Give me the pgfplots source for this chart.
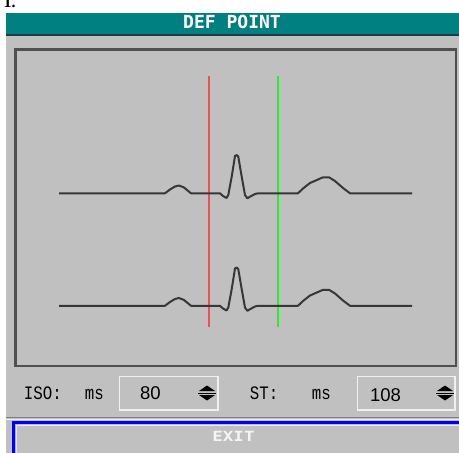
\documentclass[border=0pt]{standalone}
\usepackage{fontspec}
\usepackage{pgfplots}
\pgfplotsset{compat=1.18}
\setmainfont{Liberation Serif}
\newfontfamily\uimono{Liberation Mono}
\newfontfamily\uisans{Liberation Sans}
\newfontfamily\uititle{DejaVu Sans Mono}

\definecolor{dlgteal}{RGB}{0,128,128}
\definecolor{panelgray}{RGB}{192,192,192}
\definecolor{framegray}{RGB}{80,80,80}
\definecolor{tracegray}{RGB}{55,55,55}
\definecolor{isored}{RGB}{240,80,80}
\definecolor{stgreen}{RGB}{40,240,40}
\definecolor{boxedge}{RGB}{240,240,240}
\definecolor{darkteal}{RGB}{30,60,60}

\begin{document}
\begin{tikzpicture}
\clip (0,0) rectangle (459pt,453pt);
\begin{axis}[
    scale only axis,
    width=459pt, height=453pt,
    xmin=0, xmax=459, ymin=0, ymax=453,
    y dir=reverse,
    hide axis,
    clip=false,
]
% window
\fill[white] (0,0) rectangle (459,453);
\node[anchor=base west, font=\bfseries\fontsize{16}{16}\selectfont] at (0,7) {1.};
\fill[panelgray] (6,36) rectangle (459,453);
\fill[dlgteal] (6,13) rectangle (459,34);
\draw[darkteal, line width=2pt] (6,35) -- (459,35);
\node[anchor=base, text=white, font=\uititle\bfseries\fontsize{18}{18}\selectfont] at (232,28.5) {DEF POINT};

% waveform frame
\draw[framegray, line width=2.6pt] (15.5,49.5) rectangle (456,366);

% ISO and ST markers
\addplot[isored, line width=1.5pt] coordinates {(209,76) (209,327)};
\addplot[stgreen, line width=1.5pt] coordinates {(278,76) (278,327)};

% upper trace
\addplot[tracegray, line width=2pt, line join=round] coordinates {
    (59,193.3) (165,193.3) (170,189.5) (175,186.5) (179,185.5) (184,187.5) (191,193.3)
    (220,193.3) (223,196) (226.5,198) (228.3,195) (231.7,176.7) (235,156) (236.7,155)
    (238.3,156.7) (241.7,176.7) (245,195) (247.3,198.3) (250,196.7) (255,194) (258,193.3)
    (298,193.3) (303,188.5) (310,183) (318,179.5) (323,177.3) (329,177.3) (335,181)
    (343,188) (350,193.3) (412,193.3)
};
% lower trace
\addplot[tracegray, line width=2pt, line join=round] coordinates {
    (59,305.8) (165,305.8) (170,302) (175,299) (179,298) (184,300) (191,305.8)
    (220,305.8) (223,308.5) (226.5,310.5) (228.3,307.5) (231.7,289.2) (235,268.5) (236.7,267.5)
    (238.3,269.2) (241.7,289.2) (245,307.5) (247.3,310.8) (250,309.2) (255,306.5) (258,305.8)
    (298,305.8) (303,301) (310,295.5) (318,292) (323,289.8) (329,289.8) (335,293.5)
    (343,300.5) (350,305.8) (412,305.8)
};

% settings row
\node[anchor=base west, xscale=0.83, font=\uimono\fontsize{19}{19}\selectfont] at (21,399.3) {ISO:};
\node[anchor=base west, xscale=0.83, font=\uimono\fontsize{19}{19}\selectfont] at (82,399.3) {ms};
\draw[boxedge, line width=1.3pt] (119.5,376.5) rectangle (218,410);
\node[anchor=base west, font=\uisans\fontsize{18.5}{18.5}\selectfont] at (136.5,399.5) {80};
\fill[black] (199,391) -- (215,391) -- (207,385.5) -- cycle;
\draw[black, line width=1pt] (198,393) -- (216,393);
\fill[black] (199,395) -- (215,395) -- (207,400.5) -- cycle;

\node[anchor=base west, xscale=0.83, font=\uimono\fontsize{19}{19}\selectfont] at (247,399.3) {ST:};
\node[anchor=base west, xscale=0.83, font=\uimono\fontsize{19}{19}\selectfont] at (309,399.3) {ms};
\draw[boxedge, line width=1.3pt] (357.5,376.5) rectangle (455,410);
\node[anchor=base west, font=\uisans\fontsize{18.5}{18.5}\selectfont] at (366.5,401.5) {108};
\fill[black] (437,391) -- (453,391) -- (445,385.5) -- cycle;
\draw[black, line width=1pt] (436,393) -- (454,393);
\fill[black] (437,395) -- (453,395) -- (445,400.5) -- cycle;

% separator and EXIT button
\draw[gray, line width=1pt] (6,417.5) -- (459,417.5);
\draw[white!90!gray, line width=1pt] (6,419) -- (459,419);
\draw[blue, line width=2.6pt] (13.5,422.5) rectangle (464,460);
\draw[white!85!gray, line width=1pt] (16.5,425.5) rectangle (462,460);
\node[anchor=base, xscale=1.25, text=white!92!gray, font=\uititle\bfseries\fontsize{14}{14}\selectfont] at (233.5,441.7) {EXIT};
\end{axis}
\end{tikzpicture}
\end{document}
